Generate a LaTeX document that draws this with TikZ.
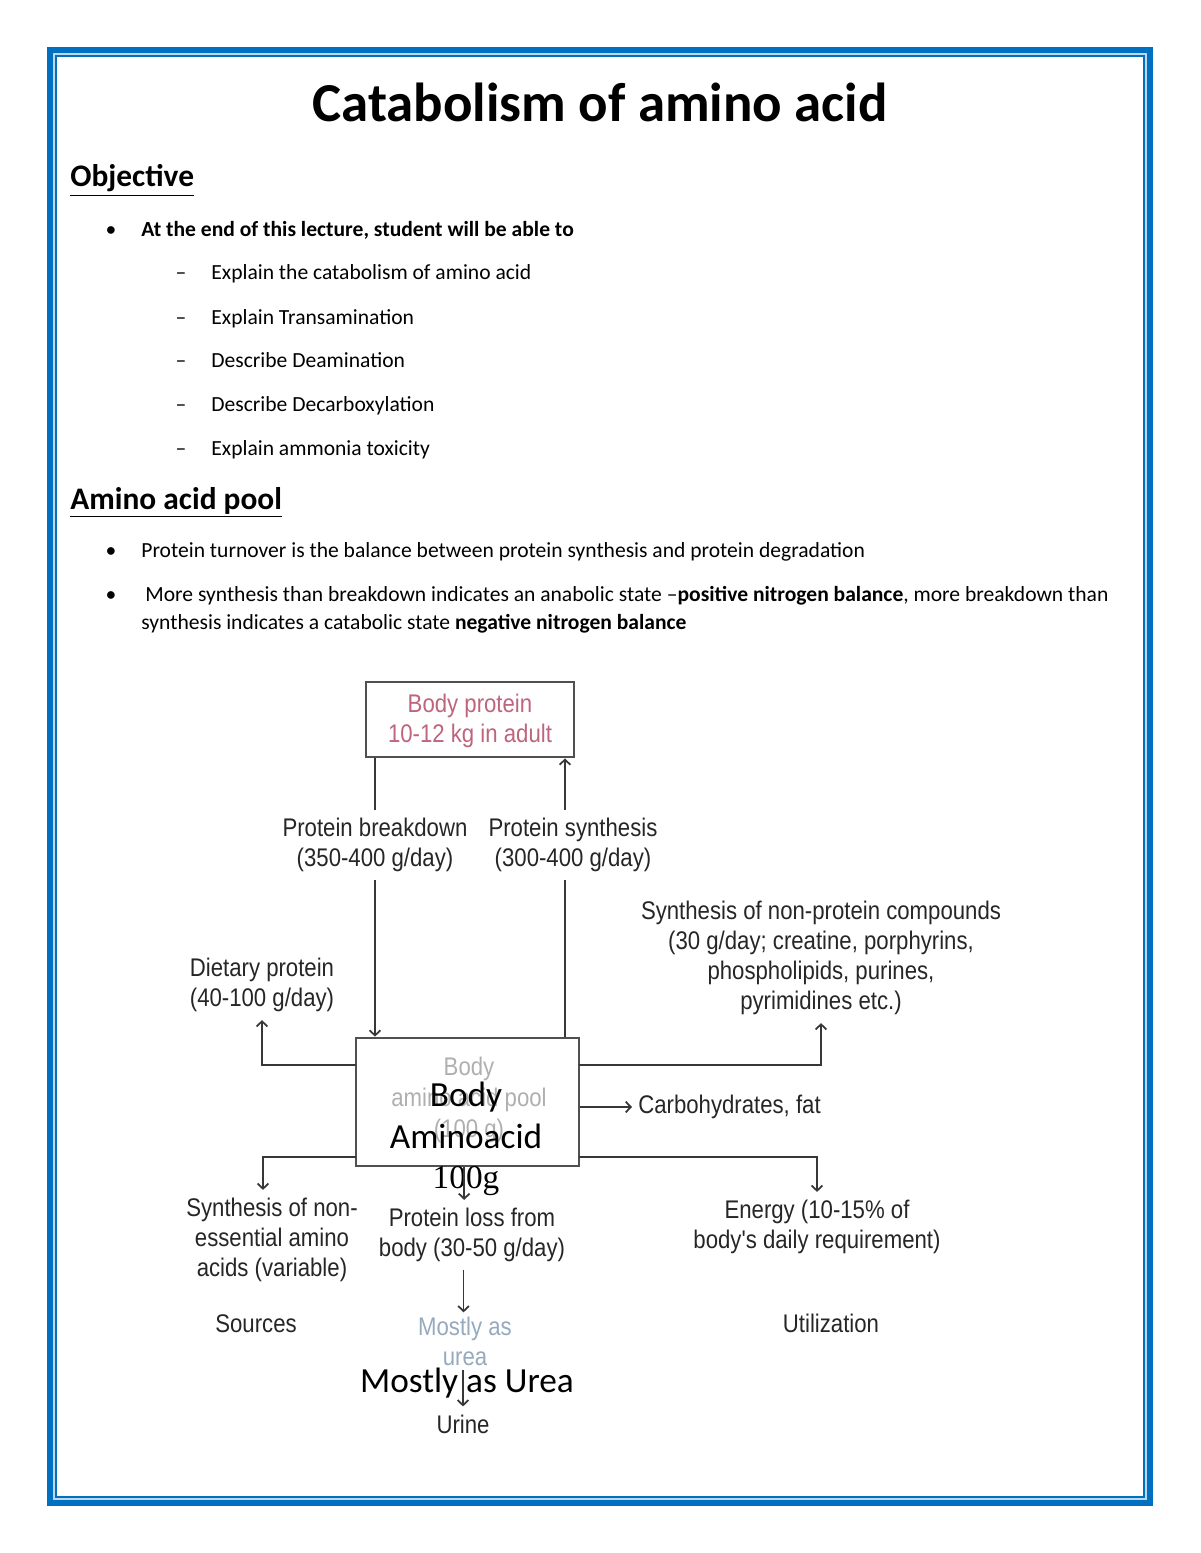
\documentclass[tikz,border=0pt]{standalone}
\usepackage{fontspec}
\setmainfont{Carlito}
\newfontfamily\diagfont[FakeStretch=0.87]{Liberation Sans}
\newfontfamily\numfont{Liberation Serif}
\usetikzlibrary{arrows.meta}
\definecolor{wordblue}{RGB}{0,112,192}
\definecolor{gapblue}{RGB}{190,215,240}
\definecolor{diagline}{RGB}{55,55,55}
\definecolor{boxline}{RGB}{80,80,80}
\definecolor{pinktext}{RGB}{190,100,125}
\definecolor{fadetext}{RGB}{175,175,175}
\definecolor{fadeblue}{RGB}{150,170,190}
\tikzset{
  bodytext/.style={anchor=base west, inner sep=0pt, font=\fontsize{11}{13}\selectfont},
  boldtext/.style={bodytext, font=\bfseries\fontsize{11}{13}\selectfont},
  bulletmark/.style={anchor=base, inner sep=0pt, font=\fontsize{11}{13}\selectfont},
  dlabel/.style={align=center, inner sep=4pt, text=black!85, font=\diagfont\fontsize{13}{15.3}\selectfont},
  dbox/.style={draw=boxline, line width=1.4pt, inner sep=0pt},
  conn/.style={draw=diagline, line width=0.9pt},
  arr/.style={conn, -{Straight Barb[length=2.6pt,width=5.5pt]}},
}
\begin{document}
\begin{tikzpicture}[x=0.51pt,y=-0.51pt]
\useasboundingbox (0,0) rectangle (1200,1553);
% page border
\draw[wordblue, line width=3.1pt] (50,50) rectangle (1150,1503);
\draw[gapblue, line width=1pt] (54,54) rectangle (1146,1499);
\draw[wordblue, line width=1pt] (56,56) rectangle (1144,1497);

% title and text
\node[anchor=base, inner sep=0pt, font=\bfseries\fontsize{28}{34}\selectfont] (title) at (600,122) {Catabolism of amino acid};
\node[anchor=base west, inner sep=0pt, font=\bfseries\fontsize{16}{19}\selectfont] (obj) at (70,187) {\underline{Objective}};
\node[bulletmark] (b1) at (111,236) {\textbullet};
\node[boldtext] (t1) at (141,236) {At the end of this lecture, student will be able to};
\node[bulletmark] (d1) at (181,279) {–};
\node[bodytext] (s1) at (211,279) {Explain the catabolism of amino acid};
\node[bulletmark] (d2) at (181,324) {–};
\node[bodytext] (s2) at (211,324) {Explain Transamination};
\node[bulletmark] (d3) at (181,367) {–};
\node[bodytext] (s3) at (211,367) {Describe Deamination};
\node[bulletmark] (d4) at (181,411) {–};
\node[bodytext] (s4) at (211,411) {Describe Decarboxylation};
\node[bulletmark] (d5) at (181,455) {–};
\node[bodytext] (s5) at (211,455) {Explain ammonia toxicity};
\node[anchor=base west, inner sep=0pt, font=\bfseries\fontsize{16}{19}\selectfont] (pool) at (70,509) {\underline{Amino acid pool}};
\node[bulletmark] (b2) at (111,557) {\textbullet};
\node[bodytext] (t2) at (141,557) {Protein turnover is the balance between protein synthesis and protein degradation};
\node[bulletmark] (b3) at (111,601) {\textbullet};
\node[bodytext] (t3) at (145,601) {More synthesis than breakdown indicates an anabolic state –\textbf{positive nitrogen balance}, more breakdown than};
\node[bodytext] (t4) at (141,629) {synthesis indicates a catabolic state \textbf{negative nitrogen balance}};

% diagram boxes
\node[dbox, minimum width=106.1pt, minimum height=38.3pt] (bp) at (470,719.5) {};
\node[align=center, inner sep=0pt, text=pinktext, font=\diagfont\fontsize{13}{15.3}\selectfont] (bptext) at (470,721) {Body protein\\10-12 kg in adult};
\node[dbox, minimum width=113.7pt, minimum height=65.3pt] (aa) at (467.5,1102) {};
\node[align=center, inner sep=0pt, text=fadetext, font=\diagfont\fontsize{13}{15.8}\selectfont] (aafade) at (469,1100) {Body\\amino acid pool\\(100 g)};
\node[align=center, inner sep=0pt, font=\fontsize{18}{21.4}\selectfont] (aatext) at (466,1115) {Body\\Aminoacid};
\node[anchor=base, inner sep=0pt, font=\numfont\fontsize{17}{20}\selectfont] (hundred) at (466,1188) {100g};

% labels
\node[dlabel] (lbd) at (375,845) {Protein breakdown\\(350-400 g/day)};
\node[dlabel] (lps) at (573,845) {Protein synthesis\\(300-400 g/day)};
\node[dlabel] (diet) at (262,985) {Dietary protein\\(40-100 g/day)};
\node[dlabel] (nonp) at (821,958) {Synthesis of non-protein compounds\\(30 g/day; creatine, porphyrins,\\phospholipids, purines,\\pyrimidines etc.)};
\node[dlabel, anchor=west, inner sep=3pt] (carb) at (632,1107) {Carbohydrates, fat};
\node[dlabel] (none) at (272,1240) {Synthesis of non-\\essential amino\\acids (variable)};
\node[dlabel] (loss) at (472,1235) {Protein loss from\\body (30-50 g/day)};
\node[dlabel] (energy) at (817,1227) {Energy (10-15\% of\\body's daily requirement)};
\node[dlabel] (src) at (256,1324) {Sources};
\node[dlabel] (util) at (831,1323) {Utilization};
\node[dlabel, text=fadeblue] (urea1) at (465,1341) {Mostly as\\urea};
\node[inner sep=0pt, anchor=base, font=\fontsize{18}{21}\selectfont] (urea2) at (467,1392) {Mostly as Urea};
\node[dlabel] (urine) at (463,1424) {Urine};

% connector anchor points
\coordinate (aaL1) at (356,1065);
\coordinate (aaR1) at (579,1065);
\coordinate (aaL2) at (356,1157);
\coordinate (aaR2) at (579,1157);
\coordinate (uTop) at (463,1370);
\coordinate (synTop) at ([xshift=-4.1pt]lps.north);
\coordinate (synBot) at ([xshift=-4.1pt]lps.south);
\coordinate (noneTop) at ([xshift=-4.6pt]none.north);
\coordinate (lossTop) at ([xshift=-4pt]loss.north);
\coordinate (lossBot) at ([xshift=-4.3pt]loss.south);
\coordinate (ureaTop) at ([xshift=-1pt,yshift=-2pt]urea1.north);

% connectors
\draw[conn] (bp.south -| lbd) -- (lbd.north);
\draw[arr] (lbd.south) -- (aa.north -| lbd);
\draw[conn] (synBot) -- (aa.north -| synBot);
\draw[arr] (synTop) -- (bp.south -| synTop);
\draw[arr] (aaL1) -| (diet.south);
\draw[arr] (aaR1) -| (nonp.south);
\draw[arr] (aa.east |- carb) -- (carb.west);
\draw[arr] (aaL2) -| (noneTop);
\draw[arr] (aaR2) -| (energy.north);
\draw[arr] (aa.south -| lossTop) -- (lossTop);
\draw[arr] (lossBot) -- (lossBot |- ureaTop);
\draw[arr] (uTop) -- (urine.north -| uTop);
\end{tikzpicture}
\end{document}
